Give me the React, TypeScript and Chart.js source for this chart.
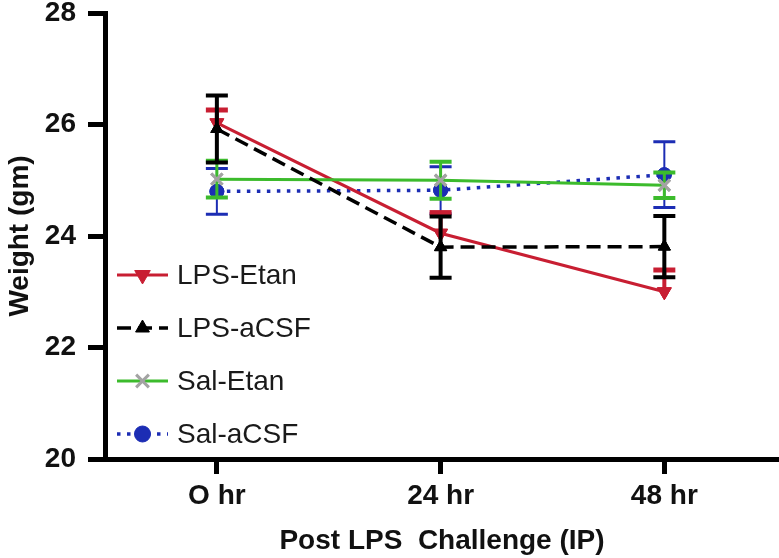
import React, { useEffect, useRef } from "react";
import { Chart, registerables } from "chart.js";
import { drawPoint } from "chart.js/helpers";

Chart.register(...registerables);

// ---- data ----
const timePoints = [0, 24, 48];
const xTickLabels = ["O hr", "24 hr", "48 hr"];
const seriesNames = ["LPS-Etan", "LPS-aCSF", "Sal-Etan", "Sal-aCSF"];

const lpsEtan = [26.03, 24.05, 23.0];
const lpsEtanErr = [0.23, 0.37, 0.39];
const lpsAcsf = [25.92, 23.8, 23.81];
const lpsAcsfErr = [0.6, 0.55, 0.55];
const salEtan = [25.02, 25.0, 24.91];
const salEtanErr = [0.33, 0.33, 0.23];
const salAcsf = [24.8, 24.82, 25.1];
const salAcsfErr = [0.41, 0.42, 0.59];

const yMin = 20;
const yMax = 28;
const yStep = 2;

const FONT = "'Liberation Sans', Arial, Helvetica, sans-serif";

const RED = "#c81e32";
const BLACK = "#000000";
const GREEN = "#3cbb2c";
const GREY = "#a3a3a3";
const BLUE = "#1c2db4";

const errorSets = [lpsEtanErr, lpsAcsfErr, salEtanErr, salAcsfErr];
const errorStyles = [
  { color: RED, width: 4, capWidth: 5, upOnly: true },
  { color: BLACK, width: 4, capWidth: 4, upOnly: false },
  { color: GREEN, width: 3, capWidth: 4, upOnly: false },
  { color: BLUE, width: 2, capWidth: 3, upOnly: false },
];

const toPoints = (vals: number[]) => vals.map((v, i) => ({ x: timePoints[i], y: v }));

const errorBarPlugin = {
  id: "errorBars",
  afterDatasetDraw(chart: any, args: any) {
    const i = args.index;
    const ds = chart.data.datasets[i];
    const errs = errorSets[i];
    const st = errorStyles[i];
    const xs = chart.scales.x;
    const ys = chart.scales.y;
    const ctx = chart.ctx;
    ctx.save();
    ctx.strokeStyle = st.color;
    ctx.setLineDash([]);
    ds.data.forEach((p: any, j: number) => {
      const x = xs.getPixelForValue(p.x);
      const yc = ys.getPixelForValue(p.y);
      const yt = ys.getPixelForValue(p.y + errs[j]);
      const yb = st.upOnly ? yc : ys.getPixelForValue(p.y - errs[j]);
      ctx.lineWidth = st.width;
      ctx.beginPath();
      ctx.moveTo(x, yt);
      ctx.lineTo(x, yb);
      ctx.stroke();
      ctx.lineWidth = st.capWidth;
      ctx.beginPath();
      ctx.moveTo(x - 11, yt);
      ctx.lineTo(x + 11, yt);
      if (!st.upOnly) {
        ctx.moveTo(x - 11, yb);
        ctx.lineTo(x + 11, yb);
      }
      ctx.stroke();
    });
    // redraw the markers on top of the bars
    const meta = chart.getDatasetMeta(i);
    meta.data.forEach((el: any) => {
      const o = el.options;
      ctx.fillStyle = o.backgroundColor;
      ctx.strokeStyle = o.borderColor;
      ctx.lineWidth = o.borderWidth;
      drawPoint(ctx, { pointStyle: o.pointStyle, rotation: o.rotation, radius: o.radius, borderWidth: o.borderWidth }, el.x, el.y);
    });
    ctx.restore();
  },
};

const legendPlugin = {
  id: "insideLegend",
  afterDraw(chart: any) {
    const ctx = chart.ctx;
    const area = chart.chartArea;
    const x0 = area.left + 12;
    const x1 = area.left + 63;
    const xm = (x0 + x1) / 2;
    const tx = area.left + 72;
    ctx.save();
    chart.data.datasets.forEach((ds: any, i: number) => {
      const y = 275 + i * 53;
      ctx.strokeStyle = ds.borderColor;
      ctx.lineWidth = ds.borderWidth;
      ctx.setLineDash(ds.borderDash || []);
      ctx.lineCap = ds.borderCapStyle || "butt";
      ctx.beginPath();
      ctx.moveTo(x0, y);
      ctx.lineTo(x1, y);
      ctx.stroke();
      ctx.setLineDash([]);
      ctx.lineCap = "butt";
      ctx.fillStyle = ds.pointBackgroundColor;
      ctx.strokeStyle = ds.pointBorderColor;
      ctx.lineWidth = ds.pointBorderWidth;
      drawPoint(ctx, { pointStyle: ds.pointStyle, rotation: ds.pointRotation || 0, radius: ds.pointRadius + 1, borderWidth: ds.pointBorderWidth }, xm, y);
      ctx.fillStyle = "#1a1a1a";
      ctx.font = `28px ${FONT}`;
      ctx.textAlign = "left";
      ctx.textBaseline = "middle";
      ctx.fillText(seriesNames[i], tx, y + 1);
    });
    ctx.restore();
  },
};

export default function App() {
  const ref = useRef<HTMLCanvasElement | null>(null);

  useEffect(() => {
    if (!ref.current) return;
    const chart = new Chart(ref.current, {
      type: "line",
      data: {
        datasets: [
          {
            label: seriesNames[0],
            data: toPoints(lpsEtan),
            order: 3,
            borderColor: RED,
            borderWidth: 3,
            pointStyle: "triangle",
            pointRotation: 180,
            pointRadius: 8,
            pointBackgroundColor: RED,
            pointBorderColor: RED,
            pointBorderWidth: 1,
          },
          {
            label: seriesNames[1],
            data: toPoints(lpsAcsf),
            order: 1,
            borderColor: BLACK,
            borderWidth: 3.5,
            borderDash: [14, 7],
            pointStyle: "triangle",
            pointRadius: 7,
            pointBackgroundColor: BLACK,
            pointBorderColor: BLACK,
            pointBorderWidth: 1,
          },
          {
            label: seriesNames[2],
            data: toPoints(salEtan),
            order: 2,
            borderColor: GREEN,
            borderWidth: 3,
            pointStyle: "crossRot",
            pointRadius: 8,
            pointBackgroundColor: GREY,
            pointBorderColor: GREY,
            pointBorderWidth: 3,
          },
          {
            label: seriesNames[3],
            data: toPoints(salAcsf),
            order: 4,
            borderColor: BLUE,
            borderWidth: 3.5,
            borderDash: [3.5, 6.5],
            pointStyle: "circle",
            pointRadius: 7,
            pointBackgroundColor: BLUE,
            pointBorderColor: BLUE,
            pointBorderWidth: 1,
          },
        ] as any,
      },
      options: {
        animation: false,
        responsive: false,
        maintainAspectRatio: false,
        layout: { padding: { top: 13, right: 0, bottom: 0, left: 0 }, autoPadding: false } as any,
        plugins: {
          legend: { display: false },
          tooltip: { enabled: false },
        },
        scales: {
          x: {
            type: "linear",
            min: -12,
            max: 60.3,
            afterBuildTicks: (s: any) => {
              s.ticks = timePoints.map((v) => ({ value: v }));
            },
            afterFit: (s: any) => {
              s.height = 99;
              s.paddingLeft = 0;
              s.paddingRight = 0;
            },
            ticks: {
              callback: (_v: any, idx: number) => xTickLabels[idx],
              font: { family: FONT, size: 28, weight: "bold" },
              color: "#111",
              padding: 5,
              maxRotation: 0,
              autoSkip: false,
            },
            grid: { display: true, drawOnChartArea: false, drawTicks: true, tickLength: 15, lineWidth: 5, color: "#000" },
            border: { display: true, width: 5, color: "#000" },
            title: {
              display: true,
              text: "Post LPS  Challenge (IP)",
              font: { family: FONT, size: 28, weight: "bold" },
              color: "#111",
              padding: { top: 7, bottom: 0 },
            },
          } as any,
          y: {
            min: yMin,
            max: yMax,
            afterFit: (s: any) => {
              s.width = 105;
              s.paddingTop = 0;
              s.paddingBottom = 0;
            },
            ticks: {
              stepSize: yStep,
              font: { family: FONT, size: 28, weight: "bold" },
              color: "#111",
              padding: 12,
            },
            grid: { display: true, drawOnChartArea: false, drawTicks: true, tickLength: 17, lineWidth: 5, color: "#000" },
            border: { display: true, width: 5, color: "#000" },
            title: {
              display: true,
              text: "Weight (gm)",
              font: { family: FONT, size: 28, weight: "bold" },
              color: "#111",
              padding: { top: 3, bottom: 0 },
            },
          } as any,
        },
      },
      plugins: [errorBarPlugin, legendPlugin],
    });
    return () => chart.destroy();
  }, []);

  return (
    <div style={{ position: "fixed", left: 0, top: 0, width: 779, height: 558, background: "#fff" }}>
      <canvas ref={ref} width={779} height={558} style={{ width: 779, height: 558, display: "block" }} />
    </div>
  );
}
